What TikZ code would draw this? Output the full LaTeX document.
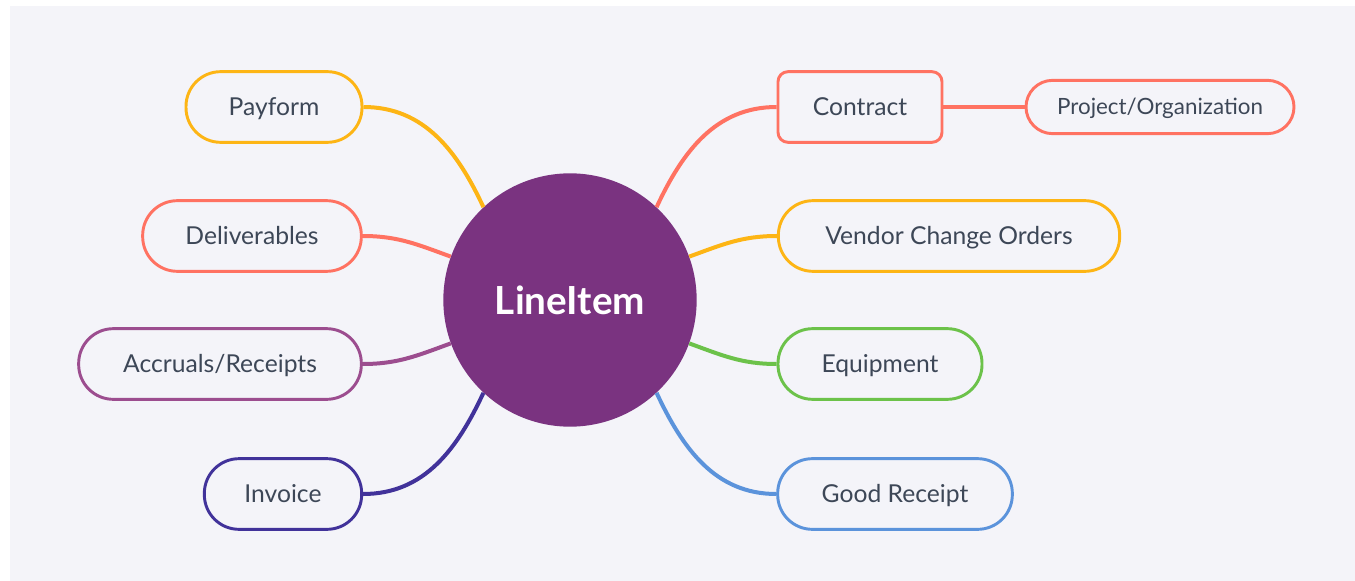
\documentclass[tikz,border=0pt]{standalone}
\usepackage{fontspec}
\setmainfont{Lato}
\definecolor{bgc}{HTML}{F4F4F9}
\definecolor{yel}{HTML}{FDB515}
\definecolor{sal}{HTML}{FF7262}
\definecolor{acc}{HTML}{9C4D8F}
\definecolor{ind}{HTML}{41329A}
\definecolor{grn}{HTML}{6CC24A}
\definecolor{blu}{HTML}{5B93DB}
\definecolor{hub}{HTML}{7A3380}
\definecolor{txt}{HTML}{3D4757}
\tikzset{
  leaf/.style={draw=#1, line width=2.2pt, fill=bgc, rounded corners=26pt,
    minimum height=53pt, inner sep=0pt, text=txt, text height=13.3pt, text depth=0pt,
    font=\fontsize{18.5}{22}\selectfont},
  link/.style={draw=#1, line width=3pt},
}
\begin{document}
\begin{tikzpicture}[x=0.75pt,y=-0.75pt]
\useasboundingbox (0,0) rectangle (1355,581);
\fill[white] (0,0) rectangle (1355,581);
\fill[bgc] (10,6) rectangle (1355,581);

\node[circle, fill=hub, minimum size=190pt, inner sep=0pt, text=white,
  font=\fontsize{29}{33}\selectfont\bfseries] (c) at (570,300) {LineItem};

\node[leaf=yel, minimum width=132pt] (pay) at (274,107) {Payform};
\node[leaf=sal, minimum width=164pt] (del) at (252,236) {Deliverables};
\node[leaf=acc, minimum width=212pt] (acr) at (220,364) {Accruals/Receipts};
\node[leaf=ind, minimum width=118pt] (inv) at (283,494) {Invoice};

\node[leaf=sal, minimum width=123pt, rounded corners=7.5pt] (con) at (860,107) {Contract};
\node[leaf=sal, minimum width=201pt, minimum height=40pt, rounded corners=20pt,
  text height=12pt, font=\fontsize{16.8}{20}\selectfont] (prj) at (1160,107) {Project/Organization};
\node[leaf=yel, minimum width=256pt] (ven) at (949,236) {Vendor Change Orders};
\node[leaf=grn, minimum width=153pt] (eqp) at (880,364) {Equipment};
\node[leaf=blu, minimum width=176pt] (grc) at (895,494) {Good Receipt};

\draw[link=yel] (pay.east) to[out=0,in=115] (c.133);
\draw[link=sal] (del.east) to[out=0,in=160] (c.160);
\draw[link=acc] (acr.east) to[out=0,in=200] (c.200);
\draw[link=ind] (inv.east) to[out=0,in=245] (c.227);
\draw[link=sal] (c.47) to[out=65,in=180] (con.west);
\draw[link=sal] (con.east) -- (prj.west);
\draw[link=yel] (c.20) to[out=20,in=180] (ven.west);
\draw[link=grn] (c.340) to[out=-20,in=180] (eqp.west);
\draw[link=blu] (c.313) to[out=-65,in=180] (grc.west);
\end{tikzpicture}
\end{document}
